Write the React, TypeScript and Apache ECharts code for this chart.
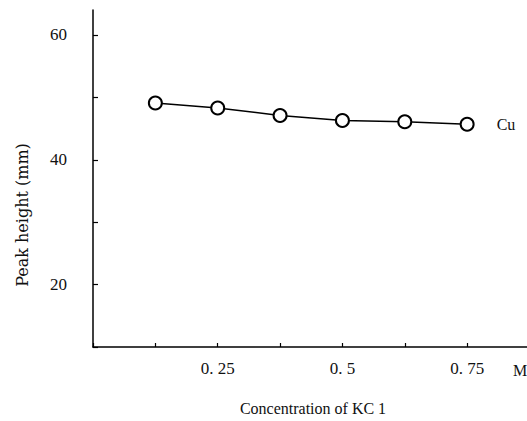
import React, { useEffect, useRef } from "react";
import * as echarts from "echarts";

const concentrations = [0.125, 0.25, 0.375, 0.5, 0.625, 0.75];
const peakHeights = [49.1, 48.3, 47.1, 46.3, 46.1, 45.7];
const xLabels: Record<string, string> = { "0.25": "0. 25", "0.5": "0. 5", "0.75": "0. 75" };
const yLabels = [20, 40, 60];
const seriesName = "Cu";

const FONT = "Liberation Serif";

export default function App() {
  const ref = useRef<HTMLDivElement>(null);
  useEffect(() => {
    if (!ref.current) return;
    const chart = echarts.init(ref.current, undefined, { renderer: "svg" });
    const data = concentrations.map((c, i) => [c, peakHeights[i]]);
    chart.setOption({
      animation: false,
      backgroundColor: "#ffffff",
      grid: { left: 93, right: 0, top: 10, bottom: 74 },
      xAxis: {
        type: "value",
        min: 0,
        max: 0.87,
        interval: 0.125,
        axisLine: { lineStyle: { color: "#000", width: 1.5 } },
        axisTick: { inside: true, length: 4, lineStyle: { color: "#000", width: 1.2 } },
        splitLine: { show: false },
        axisLabel: {
          showMaxLabel: false,
          color: "#111",
          fontFamily: FONT,
          fontSize: 17,
          margin: 13,
          formatter: (v: number) => xLabels[String(v)] ?? "",
        },
      },
      yAxis: {
        type: "value",
        min: 10,
        max: 64,
        interval: 10,
        axisLine: { show: true, lineStyle: { color: "#000", width: 1.5 } },
        axisTick: { inside: true, length: 5, lineStyle: { color: "#000", width: 1.2 } },
        splitLine: { show: false },
        axisLabel: {
          showMaxLabel: false,
          color: "#111",
          fontFamily: FONT,
          fontSize: 17,
          margin: 26,
          formatter: (v: number) => (yLabels.includes(v) ? String(v) : ""),
        },
      },
      graphic: [
        {
          type: "text",
          x: 513,
          y: 370,
          style: { text: "M", fill: "#111", font: `16px "${FONT}"`, verticalAlign: "middle", align: "left" },
        },
        {
          type: "text",
          x: 313,
          y: 408,
          style: { text: "Concentration of KC 1", fill: "#111", font: `16px "${FONT}"`, align: "center", verticalAlign: "middle" },
        },
        {
          type: "text",
          x: 22,
          y: 215,
          rotation: Math.PI / 2,
          style: { text: "Peak height (mm)", fill: "#111", font: `16px "DejaVu Serif"`, align: "center", verticalAlign: "middle" },
        },
      ],
      series: [
        {
          name: seriesName,
          type: "line",
          data,
          symbol: "circle",
          symbolSize: 13,
          itemStyle: { color: "#fff", borderColor: "#000", borderWidth: 2 },
          lineStyle: { color: "#000", width: 1.5 },
          label: {
            show: true,
            position: "right",
            distance: 22,
            color: "#111",
            fontFamily: FONT,
            fontSize: 16,
            formatter: (p: any) => (p.dataIndex === concentrations.length - 1 ? seriesName : ""),
          },
        },
      ],
    });
    return () => chart.dispose();
  }, []);
  return (
    <div
      ref={ref}
      style={{ position: "absolute", left: 0, top: 0, width: 527, height: 421 }}
    />
  );
}
